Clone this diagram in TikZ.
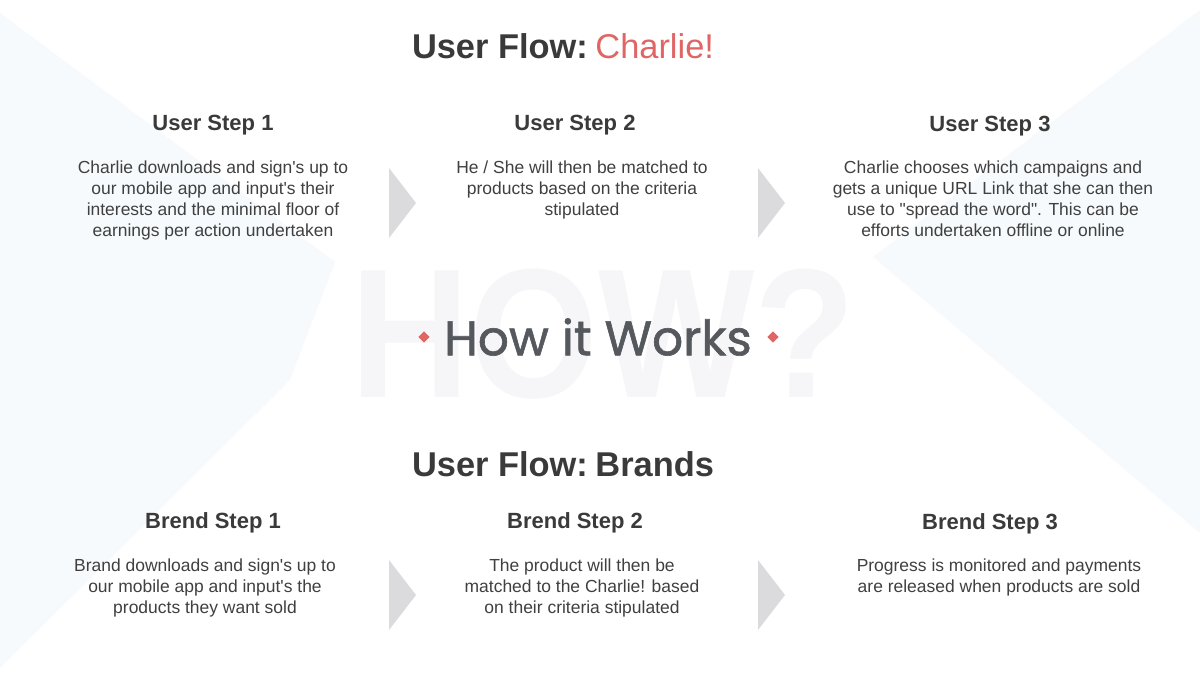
\documentclass[tikz,border=0pt]{standalone}
\usepackage{fontspec}
\usetikzlibrary{calc}
\setmainfont{Liberation Sans}[Ligatures=TeXOff]
\newfontfamily\popfont[FakeBold=1.2]{Poppins}
\definecolor{txt}{HTML}{3A3A3A}
\definecolor{body}{HTML}{404040}
\definecolor{accent}{HTML}{E06666}
\definecolor{chev}{HTML}{DBDBDE}
\definecolor{pale}{HTML}{F7FAFC}
\definecolor{wm}{HTML}{F6F6F8}
\definecolor{how}{HTML}{55595D}
\tikzset{
  px/.style={x=0.75pt,y=-0.75pt},
  title/.style={font=\fontsize{25.8}{30}\selectfont\bfseries, text=txt, anchor=center},
  steptitle/.style={font=\fontsize{16.5}{18}\selectfont\bfseries, text=txt, anchor=center},
  stepbody/.style={font=\fontsize{13.1}{15.75}\selectfont, text=body, align=center, anchor=north},
  chevron/.style={fill=chev, draw=none},
}
\begin{document}
\begin{tikzpicture}[px]
\useasboundingbox (0,0) rectangle (1200,675);
\fill[white] (0,0) rectangle (1200,675);
% faint background shapes
\fill[pale] (0,13) -- (335,262) -- (290,380) -- (0,668) -- cycle;
\fill[pale] (1200,10) -- (873,257) -- (1200,533) -- cycle;
% watermark
\node[font=\fontsize{138}{138}\selectfont\bfseries, text=wm, xscale=0.9, anchor=center] (wm) at (603,334) {HOW?};
% how it works
\node[font=\popfont\fontsize{36.5}{40}\selectfont, text=how, anchor=center] (how) at (598,337) {How it Works};
\node[fill=accent, minimum size=6pt, inner sep=0pt, rotate=45] (dl) at (424,337) {};
\node[fill=accent, minimum size=6pt, inner sep=0pt, rotate=45] (dr) at (773,337) {};
% titles
\node[title] (t1) at (563,46) {User Flow:\hspace{0.22em}\textcolor{accent}{\mdseries Charlie!}};
\node[title] (t2) at (563,464) {User Flow:\hspace{0.22em}Brands};
% user steps
\node[steptitle] (u1) at (213,125) {User Step 1};
\node[steptitle] (u2) at (575,125) {User Step 2};
\node[steptitle] (u3) at (990,126) {User Step 3};
\node[stepbody] (u1b) at (213,156) {Charlie downloads and sign's up to\\our mobile app and input's their\\interests and the minimal floor of\\earnings per action undertaken};
\node[stepbody] (u2b) at (582,156) {He / She will then be matched to\\products based on the criteria\\stipulated};
\node[stepbody] (u3b) at (993,156) {Charlie chooses which campaigns and\\gets a unique URL Link that she can then\\use to "spread the word". This can be\\efforts undertaken offline or online};
% brand steps
\node[steptitle] (b1) at (213,523) {Brend Step 1};
\node[steptitle] (b2) at (575,523) {Brend Step 2};
\node[steptitle] (b3) at (990,524) {Brend Step 3};
\node[stepbody] (b1b) at (205,554) {Brand downloads and sign's up to\\our mobile app and input's the\\products they want sold};
\node[stepbody] (b2b) at (582,554) {The product will then be\\matched to the Charlie! based\\on their criteria stipulated};
\node[stepbody] (b3b) at (999,554) {Progress is monitored and payments\\are released when products are sold};
% chevrons
\coordinate (c1) at (389,203);
\coordinate (c2) at (758,203);
\coordinate (c3) at (389,595);
\coordinate (c4) at (758,595);
\foreach \c in {c1,c2,c3,c4}{
  \fill[chevron] ($(\c)+(0,-35)$) -- ($(\c)+(27,0)$) -- ($(\c)+(0,35)$) -- cycle;
}
\end{tikzpicture}
\end{document}
